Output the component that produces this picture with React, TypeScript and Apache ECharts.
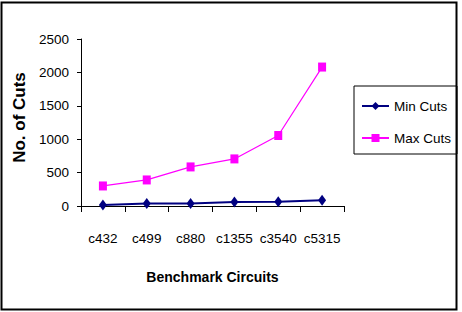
import React, { useEffect, useRef } from "react";
import * as echarts from "echarts";

// Benchmark circuits and the cut counts measured on each
const circuits = ["c432", "c499", "c880", "c1355", "c3540", "c5315"];
const minCuts = [16, 36, 38, 60, 62, 86];
const maxCuts = [300, 390, 585, 705, 1055, 2080];
const yTicks = { min: 0, max: 2500, interval: 500 };

const SANS = "'Liberation Sans', Arial, sans-serif";

export default function App() {
  const ref = useRef<HTMLDivElement>(null);

  useEffect(() => {
    if (!ref.current) return;
    const chart = echarts.init(ref.current, null, { renderer: "svg" });
    chart.setOption({
      animation: false,
      backgroundColor: "#ffffff",
      graphic: [
        {
          type: "rect",
          shape: { x: 1.5, y: 2.5, width: 455, height: 307 },
          style: { fill: "none", stroke: "#000000", lineWidth: 2 },
          silent: true,
          z: 100,
        },
      ],
      grid: { left: 81, top: 39, width: 263, height: 167, containLabel: false },
      legend: {
        orient: "vertical",
        left: 354,
        top: 86,
        padding: [13, 6, 9, 7],
        itemGap: 18,
        itemWidth: 27,
        itemHeight: 10,
        borderColor: "#000000",
        borderWidth: 1,
        textStyle: { fontFamily: SANS, fontSize: 13.5, color: "#000000" },
        data: ["Min Cuts", "Max Cuts"],
      },
      xAxis: {
        type: "category",
        data: circuits,
        boundaryGap: true,
        name: "Benchmark Circuits",
        nameLocation: "middle",
        nameGap: 64,
        nameTextStyle: { fontFamily: SANS, fontWeight: "bold", fontSize: 14, color: "#000000" },
        axisLine: { lineStyle: { color: "#000000", width: 1 } },
        axisTick: { show: true, inside: false, length: 6, interval: 0, alignWithLabel: false, lineStyle: { color: "#000000" } },
        axisLabel: { interval: 0, margin: 25, fontFamily: SANS, fontSize: 13.5, color: "#000000" },
        splitLine: { show: false },
      },
      yAxis: {
        type: "value",
        min: yTicks.min,
        max: yTicks.max,
        interval: yTicks.interval,
        name: "No. of Cuts",
        nameLocation: "middle",
        nameGap: 36,
        nameRotate: 90,
        nameTextStyle: { fontFamily: SANS, fontWeight: "bold", fontSize: 17, color: "#000000", padding: [0, 0, 0, 10] },
        axisLine: { show: true, lineStyle: { color: "#000000", width: 1 } },
        axisTick: { show: true, inside: false, length: 4, lineStyle: { color: "#000000" } },
        axisLabel: {
          margin: 12,
          fontFamily: SANS,
          fontSize: 13.5,
          color: "#000000",
          formatter: (v: number) => String(v),
        },
        splitLine: { show: false },
      },
      series: [
        {
          name: "Min Cuts",
          type: "line",
          data: minCuts,
          symbol: "diamond",
          symbolSize: [8, 11],
          color: "#000080",
          lineStyle: { color: "#000080", width: 2 },
          itemStyle: { color: "#000080" },
        },
        {
          name: "Max Cuts",
          type: "line",
          data: maxCuts,
          symbol: "rect",
          symbolSize: [8, 9],
          color: "#ff00ff",
          lineStyle: { color: "#ff00ff", width: 1.2 },
          itemStyle: { color: "#ff00ff" },
        },
      ],
    });
    return () => chart.dispose();
  }, []);

  return (
    <div
      ref={ref}
      style={{ position: "fixed", left: 0, top: 0, width: 462, height: 312, background: "#fff" }}
    />
  );
}
